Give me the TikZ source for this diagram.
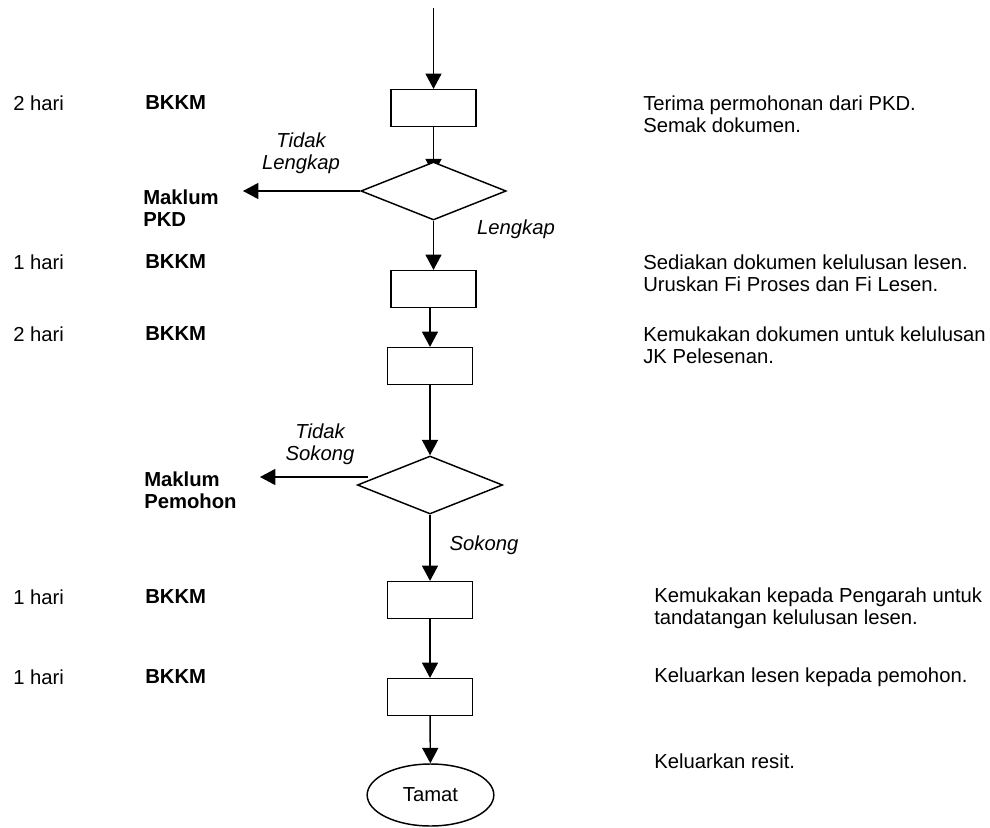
\documentclass[tikz,border=0pt]{standalone}
\usepackage{fontspec}
\setmainfont{Liberation Sans}
\usetikzlibrary{shapes.geometric,arrows.meta,backgrounds}

\begin{document}
\begin{tikzpicture}[x=0.75pt,y=0.75pt,yscale=-1,xscale=1,
    every node/.style={font=\fontsize{15.2}{16.5}\selectfont},
    flow/.style={line width=1.1pt,-{Triangle[length=11.5pt,width=12pt]}},
    stepbox/.style={draw,line width=1.1pt,fill=white,minimum width=63.75pt,minimum height=27.5pt,inner sep=0pt},
    decision/.style={draw,line width=1.1pt,fill=white,diamond,minimum width=109pt,minimum height=43.5pt,inner sep=0pt},
    endbox/.style={draw,line width=1.1pt,fill=white,ellipse,minimum width=95pt,minimum height=46.5pt,inner sep=0pt},
    note/.style={anchor=west,align=left,inner sep=0.75pt}]
\useasboundingbox (0,0) rectangle (990,828);

%Shape: Rectangle [id:box1]
\node [stepbox] (b1) at (433.5,108) {};
%Shape: Diamond [id:dec1]
\node [decision] (d1) at (433.5,191) {};
%Shape: Rectangle [id:box2]
\node [stepbox] (b2) at (433.5,289) {};
%Shape: Rectangle [id:box3]
\node [stepbox] (b3) at (430,366) {};
%Shape: Diamond [id:dec2]
\node [decision] (d2) at (430,485) {};
%Shape: Rectangle [id:box4]
\node [stepbox] (b4) at (430,600) {};
%Shape: Rectangle [id:box5]
\node [stepbox] (b5) at (430,697) {};
%Shape: Ellipse [id:tamat]
\node [endbox] (tamat) at (430.5,795) {Tamat};

\coordinate (start) at (433.5,8);
\coordinate (nl) at (243,191);
\coordinate (np) at (260,477);

%Straight Lines
\begin{scope}[on background layer]
\draw [flow] (start) -- (b1);
\draw [flow] (b1) -- ([yshift=9.75pt]d1.north);
\draw [flow] (d1) -- (nl);
\draw [flow] (d1) -- (b2);
\draw [flow] (b2.south -| b3) -- (b3);
\draw [flow] (b3) -- (d2);
\draw [flow] ([xshift=8.25pt]np -| d2.west) -- (np);
\draw [flow] (d2) -- (b4);
\draw [flow] (b4) -- (b5);
\draw [flow] (b5) -- (tamat);
\end{scope}

% Text Node
\node [align=center,inner sep=0.75pt] (tl) at (301,153) {\itshape Tidak\\\itshape Lengkap};
% Text Node
\node [inner sep=0.75pt] (lk) at (516,229) {\itshape Lengkap};
% Text Node
\node [note] (mpkd) at (142,208) {\bfseries Maklum\\\bfseries PKD};
% Text Node
\node [align=center,inner sep=0.75pt] (ts) at (320,444) {\itshape Tidak\\\itshape Sokong};
% Text Node
\node [inner sep=0.75pt] (sk) at (484,545) {\itshape Sokong};
% Text Node
\node [note] (mpem) at (143,490) {\bfseries Maklum\\\bfseries Pemohon};

% Text Node
\node [note] (h1) at (12,103) {2 hari};
\node [note,font=\fontsize{15.2}{16.5}\selectfont\bfseries] (o1) at (144,103) {BKKM};
\node [note] (t1) at (642,114) {Terima permohonan dari PKD.\\Semak dokumen.};
% Text Node
\node [note] (h2) at (12,262) {1 hari};
\node [note,font=\fontsize{15.2}{16.5}\selectfont\bfseries] (o2) at (144,262) {BKKM};
\node [note] (t2) at (642,273) {Sediakan dokumen kelulusan lesen.\\Uruskan Fi Proses dan Fi Lesen.};
% Text Node
\node [note] (h3) at (12,334) {2 hari};
\node [note,font=\fontsize{15.2}{16.5}\selectfont\bfseries] (o3) at (144,334) {BKKM};
\node [note] (t3) at (642,345) {Kemukakan dokumen untuk kelulusan\\JK Pelesenan.};
% Text Node
\node [note] (h4) at (12,597) {1 hari};
\node [note,font=\fontsize{15.2}{16.5}\selectfont\bfseries] (o4) at (144,597) {BKKM};
\node [note] (t4) at (653,608) {Kemukakan kepada Pengarah untuk\\tandatangan kelulusan lesen.};
% Text Node
\node [note] (h5) at (12,677) {1 hari};
\node [note,font=\fontsize{15.2}{16.5}\selectfont\bfseries] (o5) at (144,677) {BKKM};
\node [note] (t5) at (653,677) {Keluarkan lesen kepada pemohon.};
% Text Node
\node [note] (t6) at (653,761) {Keluarkan resit.};
\end{tikzpicture}
\end{document}
